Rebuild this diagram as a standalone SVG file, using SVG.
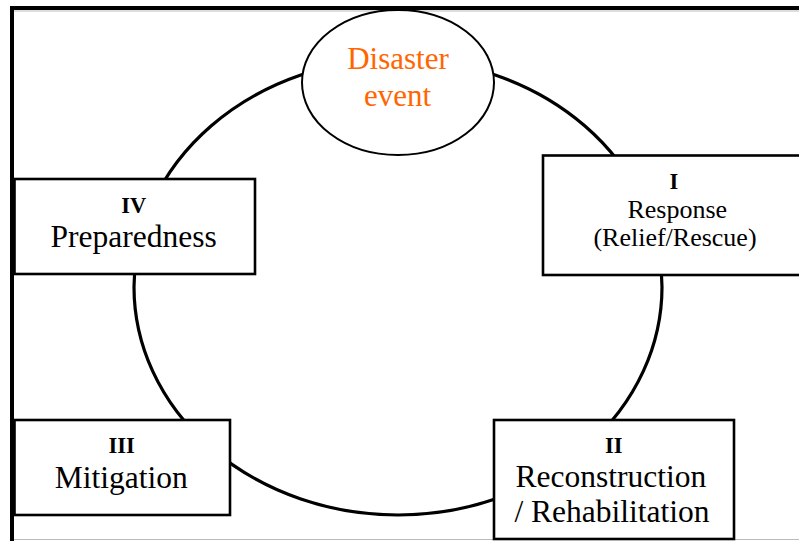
<svg xmlns="http://www.w3.org/2000/svg" width="799" height="541" viewBox="0 0 799 541">
<style>
.box{fill:#fff;stroke:#000;stroke-width:2.6}
.t{font-family:"Liberation Serif","Times New Roman",serif;fill:#000;text-anchor:middle}
.b{font-weight:bold;font-size:22.5px}
.n{font-size:31.5px}
.s{font-size:26px}
.o{font-family:"Liberation Serif","Times New Roman",serif;fill:#FF6600;text-anchor:middle;font-size:31px}
</style>
<rect x="0" y="0" width="799" height="541" fill="#fff"/>
<g id="frame">
<line x1="12" y1="11" x2="799" y2="11" stroke="#bbb" stroke-width="1"/>
<line x1="12" y1="539.5" x2="799" y2="539.5" stroke="#bbb" stroke-width="1"/>
<line x1="10" y1="8" x2="799" y2="8" stroke="#000" stroke-width="4"/>
<line x1="12" y1="6" x2="12" y2="541" stroke="#000" stroke-width="4"/>
</g>
<g id="connectors">
<ellipse cx="398" cy="287" rx="264" ry="228" fill="none" stroke="#000" stroke-width="3.2"/>
</g>
<g id="disaster">
<ellipse cx="398" cy="82.5" rx="96" ry="72.5" fill="#fff" stroke="#000" stroke-width="2"/>
<text class="o" x="398" y="69">Disaster</text>
<text class="o" x="397.5" y="106">event</text>
</g>
<g id="response">
<rect class="box" x="543" y="155.5" width="262" height="119.5"/>
<text class="t b" x="674" y="189" font-size="20">I</text>
<text class="t s" x="677.3" y="218">Response</text>
<text class="t s" x="675" y="246">(Relief/Rescue)</text>
</g>
<g id="reconstruction">
<rect class="box" x="494" y="420" width="240" height="119"/>
<text class="t b" x="613.8" y="452.7">II</text>
<text class="t n" x="610.8" y="486.7">Reconstruction</text>
<text class="t n" x="612" y="521.7">/ Rehabilitation</text>
</g>
<g id="mitigation">
<rect class="box" x="14.5" y="420" width="215.5" height="95"/>
<text class="t b" x="121.7" y="453.3">III</text>
<text class="t n" x="121.3" y="487.7">Mitigation</text>
</g>
<g id="preparedness">
<rect class="box" x="14.5" y="179" width="240.5" height="95"/>
<text class="t b" x="133.7" y="213.3">IV</text>
<text class="t n" x="133.7" y="247.3">Preparedness</text>
</g>
</svg>
